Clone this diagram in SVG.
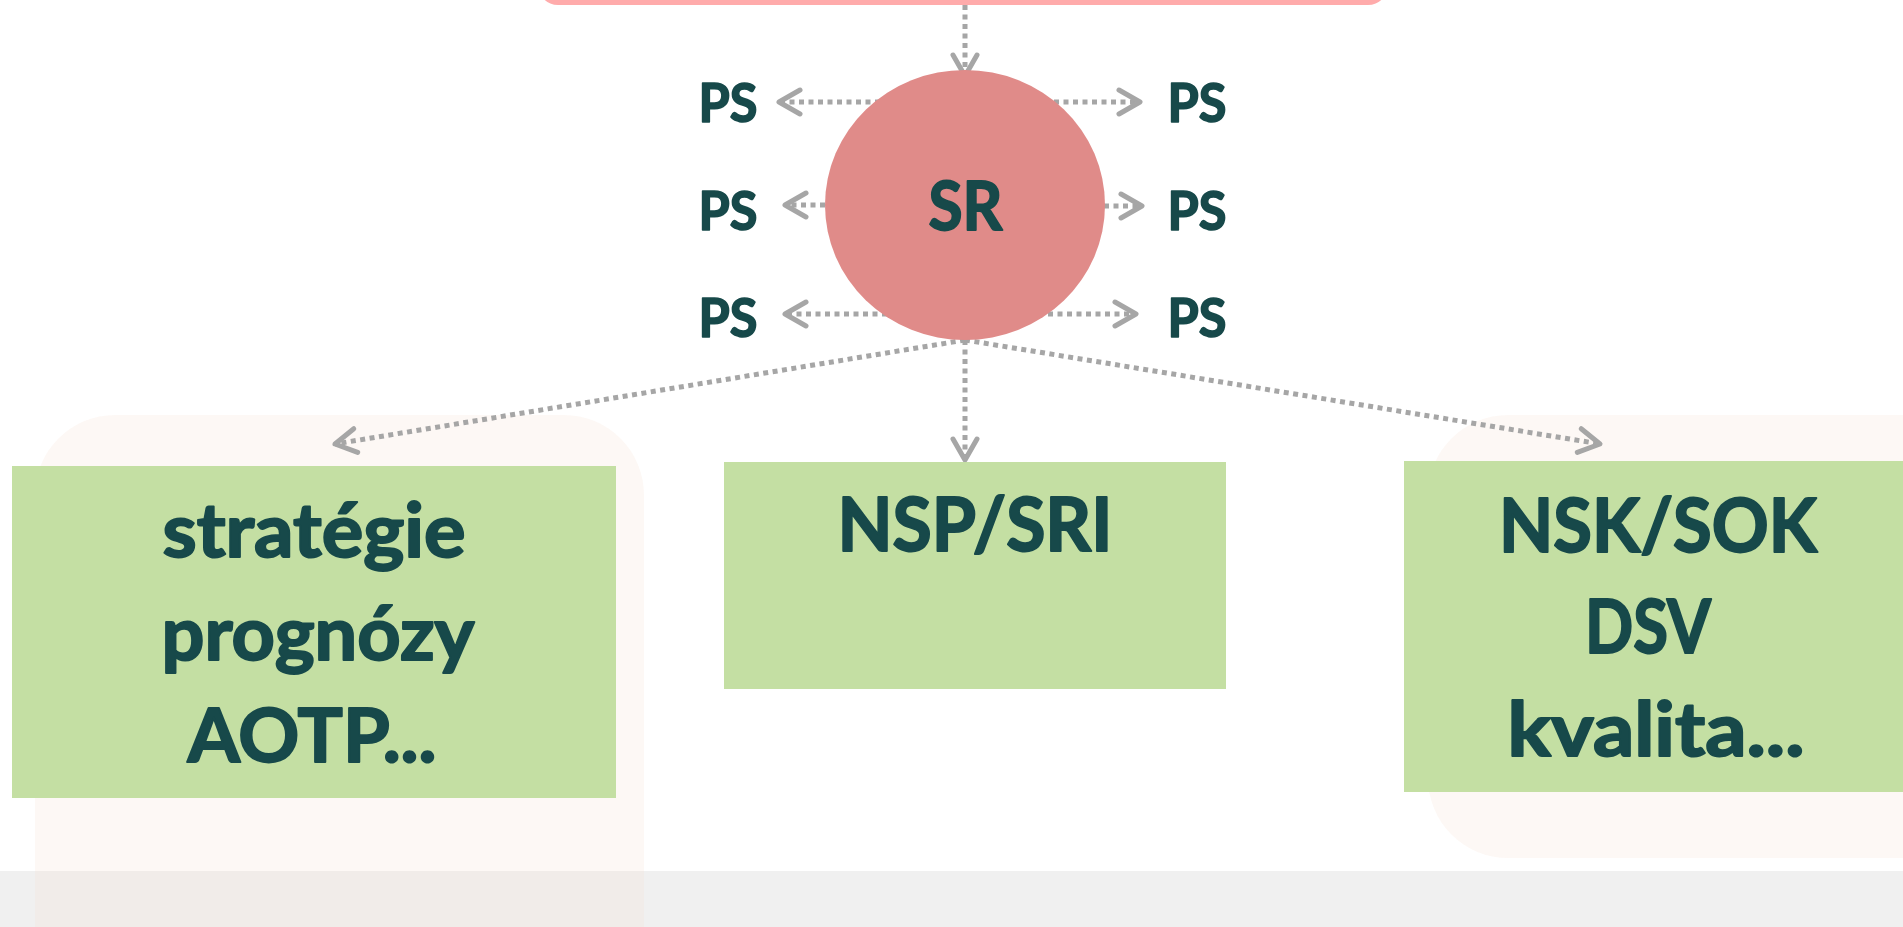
<svg xmlns="http://www.w3.org/2000/svg" width="1903" height="927" viewBox="0 0 1903 927">
  <style>
    .lbl { font-family: "Lato", "Liberation Sans", sans-serif; font-weight: 700; fill: #17494A; stroke: #17494A; stroke-linejoin: round; text-anchor: middle; }
    .big { font-size: 75px; stroke-width: 2; }
    .ps { font-size: 54px; stroke-width: 1.6; }
    .sr { font-size: 66px; stroke-width: 1.8; }
    .green { fill: #C1DD9E; fill-opacity: 0.95; }
    .pale { fill: rgb(245,220,205); fill-opacity: 0.2; }
    .con { fill: none; stroke: #A6A6A6; stroke-width: 5; stroke-dasharray: 5 4.5; marker-end: url(#chev); }
  </style>
  <defs>
    <marker id="chev" markerUnits="userSpaceOnUse" viewBox="-28 -16 32 32" markerWidth="32" markerHeight="32" refX="0" refY="0" orient="auto" overflow="visible">
      <path d="M -21 -12 L 0 0 L -21 12" fill="none" stroke="#A6A6A6" stroke-width="5" stroke-linecap="round" stroke-linejoin="round"/>
    </marker>
  </defs>

  <rect id="footer-band" x="0" y="871" width="1903" height="56" fill="#F0F0F0"/>

  <g id="top-box">
    <rect x="538" y="-45" width="850" height="50" rx="20" ry="20" fill="#FFABAB"/>
  </g>

  <g id="left-backdrop">
    <rect class="pale" x="35" y="415" width="609" height="600" rx="80" ry="80"/>
  </g>
  <g id="right-backdrop">
    <rect class="pale" x="1428" y="415" width="560" height="443" rx="80" ry="80"/>
  </g>

  <g id="connectors">
    <line class="con" x1="965" y1="5" x2="965" y2="76"/>
    <line class="con" x1="880" y1="102" x2="779" y2="102"/>
    <line class="con" x1="1054" y1="102" x2="1140" y2="102"/>
    <line class="con" x1="825" y1="205" x2="785" y2="205"/>
    <line class="con" x1="1104" y1="206" x2="1142" y2="206"/>
    <line class="con" x1="887" y1="314" x2="785" y2="314"/>
    <line class="con" x1="1048" y1="314" x2="1136" y2="314"/>
    <line class="con" x1="965" y1="340" x2="965" y2="460"/>
    <line class="con" x1="965" y1="340" x2="335" y2="444"/>
    <line class="con" x1="965" y1="340" x2="1600" y2="444"/>
  </g>

  <g id="sr">
    <ellipse cx="965" cy="205" rx="140" ry="135" fill="#E08B89"/>
    <text class="lbl sr" x="965.5" y="230" textLength="74" lengthAdjust="spacingAndGlyphs">SR</text>
  </g>

  <g id="ps-left-1"><text class="lbl ps" x="728" y="122" textLength="59" lengthAdjust="spacingAndGlyphs">PS</text></g>
  <g id="ps-left-2"><text class="lbl ps" x="728" y="230" textLength="59" lengthAdjust="spacingAndGlyphs">PS</text></g>
  <g id="ps-left-3"><text class="lbl ps" x="728" y="337" textLength="59" lengthAdjust="spacingAndGlyphs">PS</text></g>
  <g id="ps-right-1"><text class="lbl ps" x="1197" y="122" textLength="59" lengthAdjust="spacingAndGlyphs">PS</text></g>
  <g id="ps-right-2"><text class="lbl ps" x="1197" y="230" textLength="59" lengthAdjust="spacingAndGlyphs">PS</text></g>
  <g id="ps-right-3"><text class="lbl ps" x="1197" y="337" textLength="59" lengthAdjust="spacingAndGlyphs">PS</text></g>

  <g id="box-left">
    <rect class="green" x="12" y="466" width="604" height="332"/>
    <text class="lbl big" x="314" y="557" textLength="303" lengthAdjust="spacingAndGlyphs">stratégie</text>
    <text class="lbl big" x="318" y="660" textLength="313" lengthAdjust="spacingAndGlyphs">prognózy</text>
    <text class="lbl big" x="312" y="762" textLength="249" lengthAdjust="spacingAndGlyphs">AOTP...</text>
  </g>

  <g id="box-middle">
    <rect class="green" x="724" y="462" width="502" height="227"/>
    <text class="lbl big" x="975" y="551" textLength="275" lengthAdjust="spacingAndGlyphs">NSP/SRI</text>
  </g>

  <g id="box-right">
    <rect class="green" x="1404" y="461" width="510" height="331"/>
    <text class="lbl big" x="1658" y="552" textLength="318" lengthAdjust="spacingAndGlyphs">NSK/SOK</text>
    <text class="lbl big" x="1648" y="653" textLength="126" lengthAdjust="spacingAndGlyphs">DSV</text>
    <text class="lbl big" x="1656" y="756" textLength="297" lengthAdjust="spacingAndGlyphs">kvalita...</text>
  </g>
</svg>
